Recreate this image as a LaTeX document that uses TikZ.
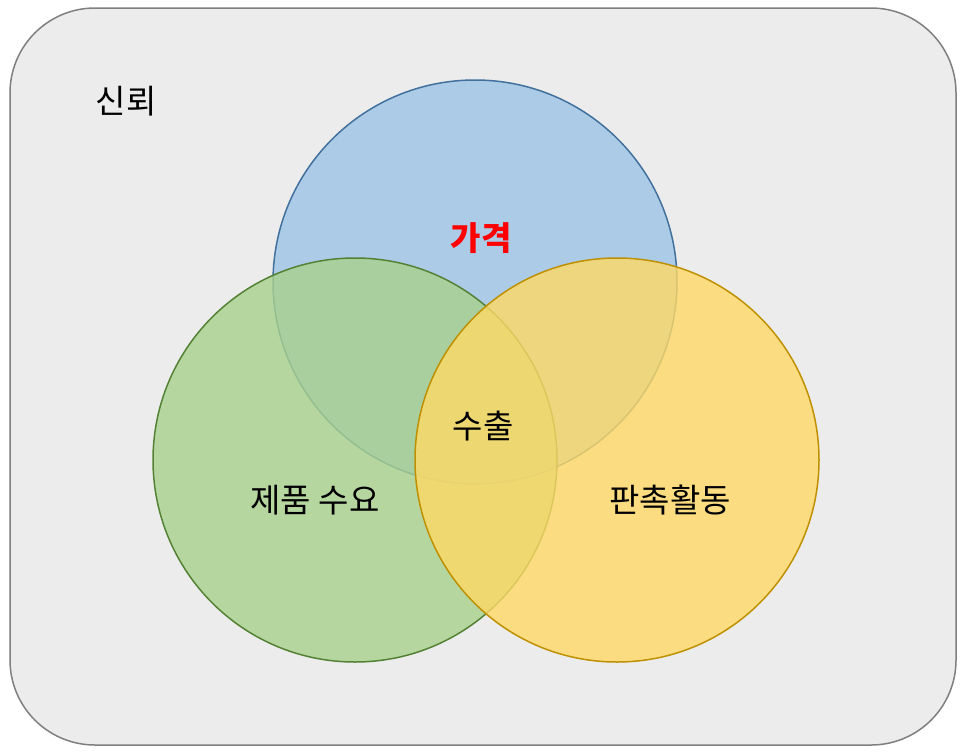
\documentclass[tikz,border=0pt]{standalone}
\usepackage{fontspec}
\newfontfamily\kr{Noto Sans CJK KR}
\begin{document}
\begin{tikzpicture}[x=1pt,y=-1pt,
  lbl/.style={font=\kr\fontsize{33}{38}\selectfont, inner sep=0pt},
  circ/.style={line width=1.5pt, fill opacity=0.8}]
\useasboundingbox (0,0) rectangle (966,753);
\draw[fill={rgb,255:red,236;green,236;blue,236}, draw={rgb,255:red,127;green,127;blue,127}, line width=1.5pt, rounded corners=85pt] (10,8) rectangle (956,745);
\definecolor{bf}{RGB}{157,195,230}\definecolor{bs}{RGB}{65,113,156}
\definecolor{gf}{RGB}{169,209,142}\definecolor{gs}{RGB}{84,130,53}
\definecolor{yf}{RGB}{255,217,102}\definecolor{ys}{RGB}{191,144,0}
\draw[circ, fill=bf, draw=bs] (475,282) circle (202);
\draw[circ, fill=gf, draw=gs] (355,460) circle (202);
\draw[circ, fill=yf, draw=ys] (617,460) circle (202);
\node[lbl] (trust) at (126,101) {신뢰};
\node[lbl, text=red, font=\kr\bfseries\fontsize{33}{38}\selectfont] (price) at (481,238) {가격};
\node[lbl] (export) at (483,426) {수출};
\node[lbl] (demand) at (315,500) {제품 수요};
\node[lbl] (promo) at (670,500) {판촉활동};
\end{tikzpicture}
\end{document}
